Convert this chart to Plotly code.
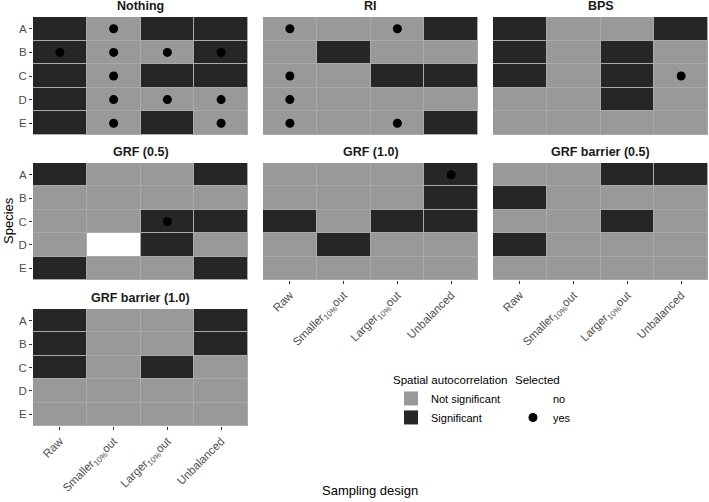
import plotly.graph_objects as go

species = ["A", "B", "C", "D", "E"]
designs = ["Raw", "Smaller<sub>10%</sub>out", "Larger<sub>10%</sub>out", "Unbalanced"]
panels = ["Nothing", "RI", "BPS", "GRF (0.5)", "GRF (1.0)",
          "GRF barrier (0.5)", "GRF barrier (1.0)"]

# Spatial autocorrelation: 1 = Significant, 0 = Not significant, None = missing
sig_nothing = [[1, 0, 1, 1], [1, 0, 0, 1], [1, 0, 1, 1], [1, 0, 0, 0], [1, 0, 1, 0]]
sig_ri      = [[0, 0, 0, 1], [0, 1, 0, 0], [0, 0, 1, 1], [0, 0, 0, 0], [0, 0, 0, 1]]
sig_bps     = [[1, 0, 0, 1], [1, 0, 1, 0], [1, 0, 1, 0], [0, 0, 1, 0], [0, 0, 0, 0]]
sig_grf05   = [[1, 0, 0, 1], [0, 0, 0, 0], [0, 0, 1, 1], [0, None, 1, 0], [1, 0, 0, 1]]
sig_grf10   = [[0, 0, 0, 1], [0, 0, 0, 1], [1, 0, 1, 1], [0, 1, 0, 0], [0, 0, 0, 0]]
sig_grfb05  = [[0, 0, 1, 1], [1, 0, 0, 0], [0, 0, 1, 0], [1, 0, 0, 0], [0, 0, 0, 0]]
sig_grfb10  = [[1, 0, 0, 1], [1, 0, 0, 1], [1, 0, 1, 0], [0, 0, 0, 0], [0, 0, 0, 0]]

# Selected: 1 = yes, 0 = no
sel_nothing = [[0, 1, 0, 0], [1, 1, 1, 1], [0, 1, 0, 0], [0, 1, 1, 1], [0, 1, 0, 1]]
sel_ri      = [[1, 0, 1, 0], [0, 0, 0, 0], [1, 0, 0, 0], [1, 0, 0, 0], [1, 0, 1, 0]]
sel_bps     = [[0, 0, 0, 0], [0, 0, 0, 0], [0, 0, 0, 1], [0, 0, 0, 0], [0, 0, 0, 0]]
sel_grf05   = [[0, 0, 0, 0], [0, 0, 0, 0], [0, 0, 1, 0], [0, 0, 0, 0], [0, 0, 0, 0]]
sel_grf10   = [[0, 0, 0, 1], [0, 0, 0, 0], [0, 0, 0, 0], [0, 0, 0, 0], [0, 0, 0, 0]]
sel_grfb05  = [[0, 0, 0, 0]] * 5
sel_grfb10  = [[0, 0, 0, 0]] * 5

sig_all = [sig_nothing, sig_ri, sig_bps, sig_grf05, sig_grf10, sig_grfb05, sig_grfb10]
sel_all = [sel_nothing, sel_ri, sel_bps, sel_grf05, sel_grf10, sel_grfb05, sel_grfb10]

LIGHT = "#999999"
DARK = "#262626"
W, H = 709, 502
FONT = "Liberation Sans, Arial, sans-serif"

col_px = [(33, 248), (263, 478), (493, 708)]
row_px = [(17, 135), (163, 280), (309, 426)]

fig = go.Figure()
layout_axes = {}
annotations = []

colorscale = [[0, LIGHT], [0.33, LIGHT], [0.34, DARK], [0.66, DARK],
              [0.67, "#ffffff"], [1, "#ffffff"]]

for i, name in enumerate(panels):
    r, c = divmod(i, 3)
    xa = "x" if i == 0 else f"x{i+1}"
    ya = "y" if i == 0 else f"y{i+1}"
    z = [[2 if v is None else v for v in row] for row in sig_all[i]]
    fig.add_trace(go.Heatmap(
        z=z, x=list(range(len(designs))), y=list(range(len(species))),
        colorscale=colorscale, zmin=0, zmax=2, showscale=False,
        xgap=1, ygap=1, xaxis=xa, yaxis=ya, hoverinfo="skip"))
    px_, py_ = [], []
    for yi, row in enumerate(sel_all[i]):
        for xi, v in enumerate(row):
            if v:
                px_.append(xi)
                py_.append(yi)
    fig.add_trace(go.Scatter(
        x=px_, y=py_, mode="markers", xaxis=xa, yaxis=ya,
        marker=dict(color="black", size=9), showlegend=False, hoverinfo="skip"))

    x0, x1 = col_px[c]
    y0, y1 = row_px[r]
    xdom = [x0 / W, x1 / W]
    ydom = [1 - y1 / H, 1 - y0 / H]
    show_x = i in (4, 5, 6)
    key_x = "xaxis" if i == 0 else f"xaxis{i+1}"
    key_y = "yaxis" if i == 0 else f"yaxis{i+1}"
    layout_axes[key_x] = dict(
        domain=xdom, anchor=ya, range=[-0.5, 3.5],
        tickvals=list(range(len(designs))), ticktext=designs,
        showticklabels=show_x, ticks="outside" if show_x else "",
        ticklen=3, tickcolor="#333333", tickwidth=1, tickangle=-45,
        tickfont=dict(size=11.5, color="#4d4d4d", family=FONT),
        showgrid=False, zeroline=False, showline=False, fixedrange=True)
    layout_axes[key_y] = dict(
        domain=ydom, anchor=xa, range=[4.5, -0.5],
        tickvals=list(range(len(species))), ticktext=species,
        showticklabels=(c == 0), ticks="outside" if c == 0 else "",
        ticklen=3, tickcolor="#333333", tickwidth=1,
        tickfont=dict(size=11.5, color="#4d4d4d", family=FONT),
        showgrid=False, zeroline=False, showline=False, fixedrange=True)
    annotations.append(dict(
        text=f"<b>{name}</b>", x=(xdom[0] + xdom[1]) / 2, y=ydom[1],
        xref="paper", yref="paper", xanchor="center", yanchor="bottom",
        yshift=2, showarrow=False,
        font=dict(size=12.5, color="#1a1a1a", family=FONT)))

annotations.append(dict(
    text="Sampling design", x=370 / W, y=1 - 490 / H, xref="paper", yref="paper",
    xanchor="center", yanchor="middle", showarrow=False,
    font=dict(size=13, color="black", family=FONT)))
annotations.append(dict(
    text="Species", x=8 / W, y=1 - 221 / H, xref="paper", yref="paper",
    xanchor="center", yanchor="middle", showarrow=False, textangle=-90,
    font=dict(size=13, color="black", family=FONT)))

# Legend entries
fig.add_trace(go.Scatter(x=[None], y=[None], mode="markers", name="Not significant",
                         marker=dict(symbol="square", size=14, color=LIGHT),
                         legend="legend"))
fig.add_trace(go.Scatter(x=[None], y=[None], mode="markers", name="Significant",
                         marker=dict(symbol="square", size=14, color=DARK),
                         legend="legend"))
fig.add_trace(go.Scatter(x=[None], y=[None], mode="markers", name="no",
                         marker=dict(size=9, color="rgba(0,0,0,0)"),
                         legend="legend2"))
fig.add_trace(go.Scatter(x=[None], y=[None], mode="markers", name="yes",
                         marker=dict(size=9, color="black"),
                         legend="legend2"))

fig.update_layout(
    width=W, height=H, margin=dict(l=0, r=0, t=0, b=0),
    paper_bgcolor="white", plot_bgcolor="#aaaaaa",
    font=dict(family=FONT, color="black"),
    annotations=annotations,
    legend=dict(x=391 / W, y=1 - 369 / H, xanchor="left", yanchor="top",
                title=dict(text="Spatial autocorrelation", font=dict(size=11.5)),
                font=dict(size=11), bgcolor="rgba(0,0,0,0)", itemwidth=30,
                tracegroupgap=0),
    legend2=dict(x=513 / W, y=1 - 369 / H, xanchor="left", yanchor="top",
                 title=dict(text="Selected", font=dict(size=11.5)),
                 font=dict(size=11), bgcolor="rgba(0,0,0,0)", itemwidth=30,
                 tracegroupgap=0),
    **layout_axes)

fig.write_html("out.html")
